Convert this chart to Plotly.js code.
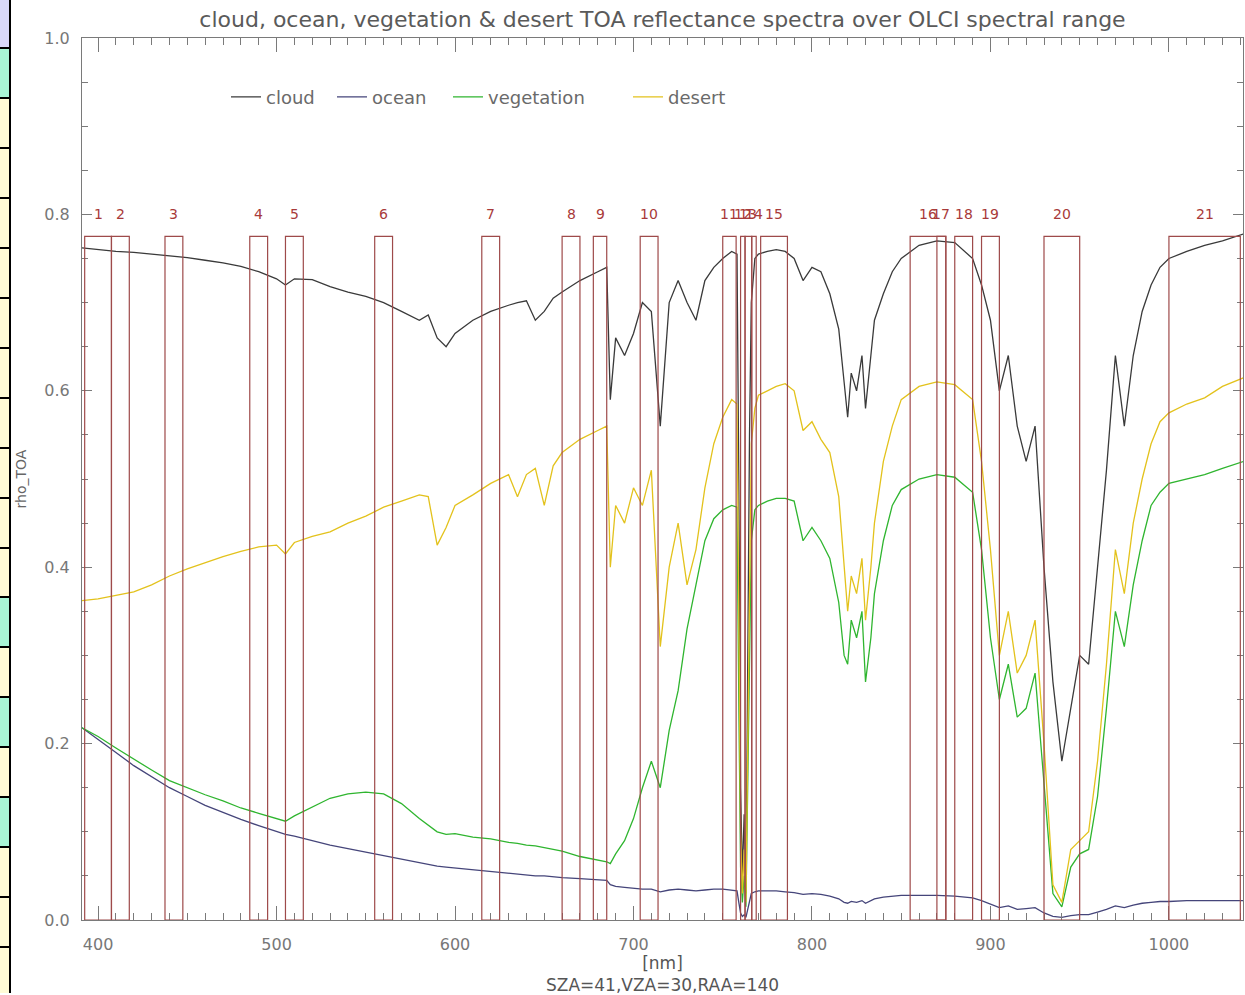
<!DOCTYPE html>
<html>
<head>
<meta charset="utf-8">
<script src="https://cdn.plot.ly/plotly-3.0.1.min.js"></script>
<style>
  html, body { margin: 0; padding: 0; background: #ffffff; }
  #wrap { position: relative; width: 1245px; height: 995px; overflow: hidden; }
  #chart { position: absolute; left: 0; top: 0; width: 1245px; height: 995px; }
  #strip { position: absolute; left: 0; top: 0; width: 11px; height: 995px; pointer-events: none; }
  .cell { position: absolute; left: 0; width: 9px; }
  .hb { position: absolute; left: 0; width: 11px; height: 2px; background: #000; }
  .vb { position: absolute; left: 9px; width: 2px; top: 0; background: #000; }
</style>
</head>
<body>
<div id="wrap">
  <div id="chart"></div>
  <div id="strip"></div>
</div>
<script>
// ---- spectral data ----
const wavelength = [391,400,410,420,430,440,450,460,470,480,
  490,500,505,510,520,530,540,550,560,570,
  580,585,590,595,600,610,620,630,635,640,
  645,650,655,660,670,680,685,687,690,695,
  700,705,710,715,720,725,730,735,740,745,
  750,755,758,759,760,761,762,763,764,765,
  766,768,770,775,780,785,790,795,800,805,
  810,815,818,820,822,825,828,830,833,835,
  840,845,850,860,870,880,890,895,900,905,
  910,915,920,925,930,935,940,945,950,955,
  960,965,970,975,980,985,990,995,1000,1010,
  1020,1030,1042];

const cloud = [0.762,0.760,0.758,0.757,0.755,0.753,0.751,0.748,0.745,0.741,
  0.735,0.727,0.720,0.727,0.726,0.718,0.712,0.707,0.700,0.690,
  0.680,0.686,0.660,0.650,0.665,0.680,0.690,0.697,0.700,0.702,
  0.680,0.690,0.705,0.712,0.725,0.735,0.740,0.590,0.660,0.640,
  0.665,0.700,0.690,0.560,0.700,0.725,0.700,0.680,0.725,0.740,
  0.750,0.758,0.755,0.500,0.150,0.050,0.120,0.030,0.300,0.550,
  0.700,0.750,0.755,0.758,0.760,0.758,0.750,0.725,0.740,0.735,
  0.710,0.670,0.610,0.570,0.620,0.600,0.640,0.580,0.640,0.680,
  0.710,0.735,0.750,0.765,0.770,0.768,0.750,0.720,0.680,0.600,
  0.640,0.560,0.520,0.560,0.400,0.270,0.180,0.240,0.300,0.290,
  0.400,0.510,0.640,0.560,0.640,0.690,0.720,0.740,0.750,0.758,
  0.765,0.770,0.778];

const ocean = [0.218,0.205,0.190,0.175,0.162,0.150,0.140,0.130,0.122,0.114,
  0.107,0.100,0.097,0.095,0.090,0.085,0.081,0.077,0.073,0.069,
  0.065,0.063,0.061,0.060,0.059,0.057,0.055,0.053,0.052,0.051,
  0.050,0.050,0.049,0.048,0.047,0.046,0.045,0.040,0.038,0.037,
  0.036,0.035,0.035,0.032,0.034,0.035,0.034,0.033,0.034,0.035,
  0.035,0.034,0.033,0.020,0.008,0.004,0.006,0.003,0.012,0.022,
  0.030,0.032,0.033,0.033,0.033,0.032,0.031,0.029,0.030,0.029,
  0.027,0.024,0.020,0.019,0.021,0.020,0.022,0.019,0.022,0.024,
  0.026,0.027,0.028,0.028,0.028,0.027,0.025,0.022,0.018,0.014,
  0.016,0.012,0.013,0.014,0.008,0.004,0.003,0.005,0.006,0.006,
  0.009,0.012,0.016,0.014,0.017,0.019,0.020,0.021,0.021,0.022,
  0.022,0.022,0.022];

const vegetation = [0.218,0.208,0.195,0.182,0.170,0.158,0.150,0.142,0.135,0.127,
  0.121,0.115,0.112,0.118,0.128,0.138,0.143,0.145,0.143,0.132,
  0.115,0.108,0.100,0.097,0.098,0.094,0.092,0.088,0.087,0.085,
  0.084,0.082,0.080,0.078,0.072,0.068,0.066,0.064,0.075,0.090,
  0.115,0.150,0.180,0.150,0.215,0.260,0.330,0.380,0.430,0.455,
  0.465,0.470,0.468,0.250,0.060,0.020,0.050,0.015,0.150,0.320,
  0.430,0.465,0.470,0.475,0.478,0.478,0.475,0.430,0.445,0.430,
  0.410,0.360,0.300,0.290,0.340,0.320,0.350,0.270,0.320,0.370,
  0.430,0.470,0.488,0.500,0.505,0.502,0.485,0.420,0.320,0.250,
  0.290,0.230,0.240,0.280,0.150,0.030,0.015,0.060,0.075,0.080,
  0.140,0.240,0.350,0.310,0.380,0.430,0.470,0.485,0.495,0.500,
  0.505,0.512,0.520];

const desert = [0.362,0.364,0.368,0.372,0.380,0.390,0.398,0.405,0.412,0.418,
  0.423,0.425,0.415,0.428,0.435,0.440,0.450,0.458,0.468,0.475,
  0.482,0.480,0.425,0.445,0.470,0.482,0.495,0.505,0.480,0.505,
  0.512,0.470,0.515,0.530,0.545,0.555,0.560,0.400,0.470,0.450,
  0.490,0.470,0.510,0.310,0.400,0.450,0.380,0.420,0.490,0.540,
  0.570,0.590,0.585,0.350,0.100,0.030,0.080,0.020,0.200,0.420,
  0.540,0.580,0.595,0.600,0.605,0.608,0.600,0.555,0.565,0.545,
  0.530,0.480,0.400,0.350,0.390,0.370,0.410,0.340,0.400,0.450,
  0.520,0.560,0.590,0.605,0.610,0.607,0.590,0.520,0.420,0.300,
  0.350,0.280,0.300,0.340,0.200,0.040,0.020,0.080,0.090,0.100,
  0.180,0.290,0.420,0.370,0.450,0.500,0.540,0.565,0.575,0.585,
  0.592,0.605,0.615];

// ---- OLCI bands ----
const bandLabels = ["1","2","3","4","5","6","7","8","9","10","11","12","13","14","15","16","17","18","19","20","21"];
const bandCenter = [400,412.5,442.5,490,510,560,620,665,681.25,708.75,753.75,761.25,764.375,767.5,778.75,865,872.5,885,900,940,1020];
const bandWidth  = [15,10,10,10,10,10,10,10,7.5,10,7.5,2.5,3.75,2.5,15,20,5,10,10,20,40];
const bandTop = 0.775;
const bandLabelY = 0.80;

const seriesNames = ["cloud","ocean","vegetation","desert"];
const seriesColors = ["#3a3a3a","#45457a","#2fb52f","#e3c21c"];
const seriesData = [cloud, ocean, vegetation, desert];
const legendIds = ["legend","legend2","legend3","legend4"];
// left edge (px) of each legend entry's text in the reference
const legendTextPx = [266, 372, 488, 668];

const traces = seriesNames.map((n, i) => ({
  type: "scatter", mode: "lines", name: n,
  x: wavelength, y: seriesData[i],
  legend: legendIds[i],
  line: { color: seriesColors[i], width: 1.3 }
}));

const bandColor = "#9e4a4a";
const shapes = bandCenter.map((c, i) => ({
  type: "rect", xref: "x", yref: "y",
  x0: c - bandWidth[i] / 2, x1: c + bandWidth[i] / 2,
  y0: 0, y1: bandTop,
  line: { color: bandColor, width: 1.2 },
  fillcolor: "rgba(0,0,0,0)",
  layer: "above"
}));

const annotations = bandCenter.map((c, i) => ({
  x: c, y: bandLabelY, xref: "x", yref: "y",
  text: bandLabels[i], showarrow: false,
  font: { family: "DejaVu Sans", size: 14, color: "#a83a3a" },
  xanchor: "center", yanchor: "middle"
}));

const gray = "#7a7a7a";
const W = 1245, ML = 82, MR = 2;
const plotW = W - ML - MR;

const layout = {
  width: W, height: 995,
  margin: { l: ML, r: MR, t: 38, b: 75 },
  paper_bgcolor: "#ffffff", plot_bgcolor: "#ffffff",
  showlegend: true,
  title: {
    text: "cloud, ocean, vegetation & desert TOA reflectance spectra over OLCI spectral range",
    font: { family: "DejaVu Sans", size: 22, color: "#5a5a5a" },
    xref: "paper", x: 0.5, xanchor: "center",
    yref: "container", y: 0.981, yanchor: "middle"
  },
  xaxis: {
    range: [391, 1041.5], autorange: false,
    tickmode: "linear", tick0: 400, dtick: 100,
    ticks: "inside", ticklen: 14, tickwidth: 1, tickcolor: gray,
    minor: { dtick: 10, tick0: 400, ticks: "inside", ticklen: 7, tickcolor: gray, tickwidth: 1 },
    showline: true, linecolor: gray, linewidth: 1, mirror: "ticks",
    showgrid: false, zeroline: false,
    ticklabelstandoff: 10,
    tickfont: { family: "DejaVu Sans", size: 16, color: "#777777" },
    title: { text: "[nm]<br>SZA=41,VZA=30,RAA=140", font: { family: "DejaVu Sans", size: 17, color: "#555555" }, standoff: 6 },
    automargin: false
  },
  yaxis: {
    range: [0, 1], autorange: false,
    tickmode: "linear", tick0: 0, dtick: 0.2, tickformat: ".1f",
    ticks: "inside", ticklen: 10, tickwidth: 1, tickcolor: gray,
    minor: { dtick: 0.05, tick0: 0, ticks: "inside", ticklen: 6, tickcolor: gray, tickwidth: 1 },
    showline: true, linecolor: gray, linewidth: 1, mirror: "ticks",
    showgrid: false, zeroline: false,
    ticklabelstandoff: 8,
    tickfont: { family: "DejaVu Sans", size: 16, color: "#777777" },
    title: { text: "rho_TOA", font: { family: "DejaVu Sans", size: 14, color: "#666666" }, standoff: 14 },
    automargin: false
  },
  shapes: shapes,
  annotations: annotations
};

legendIds.forEach((id, i) => {
  layout[id] = {
    orientation: "h",
    x: (legendTextPx[i] - 40 - ML) / plotW, xanchor: "left",
    y: 0.933, yanchor: "middle",
    bgcolor: "rgba(0,0,0,0)",
    font: { family: "DejaVu Sans", size: 18, color: "#6a6a6a" },
    itemwidth: 30
  };
});

Plotly.newPlot("chart", traces, layout, { displayModeBar: false, staticPlot: true });

// ---- left page strip (table cells cut off at the edge) ----
const stripBounds = [0,48,98,148,198,248,298,348,398,448,498,548,597,647,697,747,797,847,897,947,993];
const stripColors = ["#d8d8fa","#a8f6d6","#fffbd6","#fffbd6","#fffbd6","#fffbd6","#fffbd6","#fffbd6","#fffbd6","#fffbd6","#fffbd6","#fffbd6",
  "#a8f6d6","#fffbd6","#a8f6d6","#fffbd6","#a8f6d6","#fffbd6","#fffbd6","#fffbd6"];
const strip = document.getElementById("strip");
for (let i = 0; i < stripColors.length; i++) {
  const d = document.createElement("div");
  d.className = "cell";
  d.style.top = stripBounds[i] + "px";
  d.style.height = (stripBounds[i + 1] - stripBounds[i]) + "px";
  d.style.background = stripColors[i];
  strip.appendChild(d);
  if (i > 0) {
    const b = document.createElement("div");
    b.className = "hb";
    b.style.top = (stripBounds[i] - 1) + "px";
    strip.appendChild(b);
  }
}
const vb = document.createElement("div");
vb.className = "vb";
vb.style.height = stripBounds[stripBounds.length - 1] + "px";
strip.appendChild(vb);
</script>
</body>
</html>
